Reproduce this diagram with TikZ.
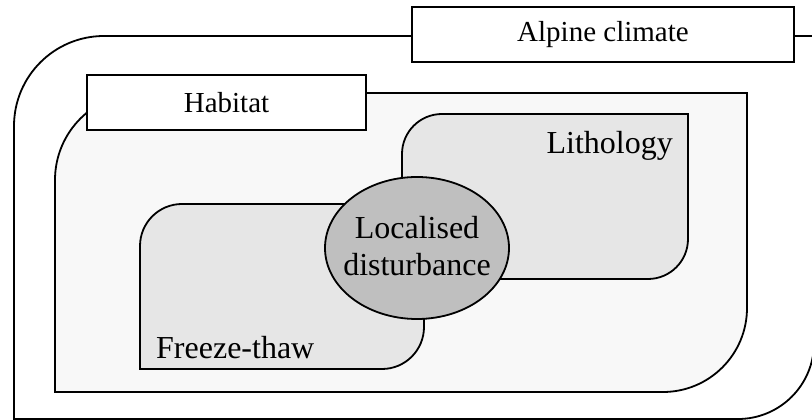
\documentclass[tikz,border=0pt]{standalone}
\usepackage{fontspec}
\setmainfont{Liberation Serif}
\usetikzlibrary{shapes.geometric}

\definecolor{habfill}{HTML}{F8F8F8}
\definecolor{zonefill}{HTML}{E6E6E6}
\definecolor{distfill}{HTML}{BFBFBF}

\begin{document}
\begin{tikzpicture}[
  x=1pt, y=1pt,
  region/.style = {draw, line width=1.8pt},
  tag/.style    = {draw, line width=1.8pt, fill=white, minimum height=55pt,
                   inner sep=0pt, font=\fontsize{29}{34}\selectfont},
  lbl/.style    = {inner sep=0pt, font=\fontsize{32}{37}\selectfont},
]
  \useasboundingbox (0,0) rectangle (812,420);

  % alpine climate
  \draw[region, fill=white] (14,1) -- (14,294)
    arc[start angle=180, end angle=90, radius=90] -- (814,384) -- (814,77)
    arc[start angle=0, end angle=-90, radius=76] -- cycle;
  \node[tag, minimum width=382pt] (alpine) at (603,385.5) {Alpine climate};

  % habitat
  \draw[region, fill=habfill] (55,28) -- (55,240)
    arc[start angle=180, end angle=90, radius=87] -- (747,327) -- (747,112)
    arc[start angle=0, end angle=-90, radius=84] -- cycle;
  \node[tag, minimum width=279pt] (habitat) at (226.5,317.5) {Habitat};

  % lithology and freeze-thaw
  \draw[region, fill=zonefill] (402,141) -- (402,266)
    arc[start angle=180, end angle=90, radius=40] -- (688,306) -- (688,181)
    arc[start angle=0, end angle=-90, radius=40] -- cycle;
  \node[lbl, anchor=base east] (litho) at (673,266) {Lithology};

  \draw[region, fill=zonefill] (140,51) -- (140,174)
    arc[start angle=180, end angle=90, radius=42] -- (424,216) -- (424,93)
    arc[start angle=0, end angle=-90, radius=42] -- cycle;
  \node[lbl, anchor=base west] (freeze) at (156,61) {Freeze-thaw};

  % disturbance
  \node[ellipse, draw, line width=1.8pt, fill=distfill, inner sep=0pt,
        minimum width=184pt, minimum height=142pt] (dist) at (417,172) {};
  \node[lbl, align=center] (distlbl) at ([yshift=2pt]dist.center) {Localised\\disturbance};
\end{tikzpicture}
\end{document}
